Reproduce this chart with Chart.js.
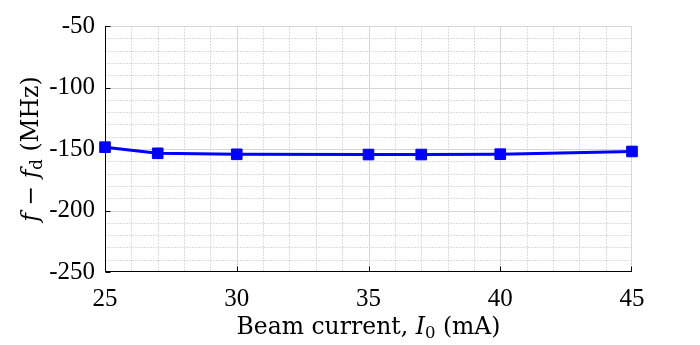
<!DOCTYPE html>
<html>
<head>
<meta charset="utf-8">
<script src="https://cdn.jsdelivr.net/npm/chart.js@4.4.0/dist/chart.umd.min.js"></script>
<style>
  html, body { margin: 0; padding: 0; background: #fff; }
  #wrap { width: 700px; height: 345px; position: relative; }
</style>
</head>
<body>
<div id="wrap"><canvas id="chart"></canvas></div>
<script>
// beam current (mA) and detuning f - fd (MHz)
const beamCurrent = [25, 27, 30, 35, 37, 40, 45];
const detuning = [-148.5, -153.5, -154.3, -154.5, -154.5, -154.2, -152];

const xMin = 25, xMax = 45, xMajor = 5, xMinor = 1;
const yMin = -250, yMax = -50, yMajor = 50, yMinor = 10;

const FONT = "'Liberation Serif', 'DejaVu Serif', serif";
const TFONT = "'DejaVu Serif', serif";

// grid + axes drawn from the chart's scales
const gridPlugin = {
  id: "matlabGrid",
  beforeDatasetsDraw(chart) {
    const ctx = chart.ctx;
    const xs = chart.scales.x, ys = chart.scales.y;
    const L = Math.round(xs.left) + 0.5, R = Math.round(xs.right) - 0.5;
    const T = Math.round(ys.top) + 0.5, B = Math.round(ys.bottom) - 0.5;
    ctx.save();
    ctx.lineWidth = 1;

    // minor dotted
    ctx.strokeStyle = "rgb(185,185,185)";
    ctx.setLineDash([1, 2]);
    for (let v = xMin + xMinor; v < xMax; v += xMinor) {
      if (v % xMajor === 0) continue;
      const px = Math.round(xs.getPixelForValue(v)) + 0.5;
      ctx.beginPath(); ctx.moveTo(px, T); ctx.lineTo(px, B); ctx.stroke();
    }
    for (let v = yMin + yMinor; v < yMax; v += yMinor) {
      if (v % yMajor === 0) continue;
      const py = Math.round(ys.getPixelForValue(v)) + 0.5;
      ctx.beginPath(); ctx.moveTo(L, py); ctx.lineTo(R, py); ctx.stroke();
    }

    // major solid
    ctx.setLineDash([]);
    ctx.strokeStyle = "rgb(215,215,215)";
    for (let v = xMin + xMajor; v <= xMax; v += xMajor) {
      const px = Math.round(xs.getPixelForValue(v)) - (v === xMax ? 0.5 : -0.5);
      ctx.beginPath(); ctx.moveTo(px, T); ctx.lineTo(px, B); ctx.stroke();
    }
    for (let v = yMin + yMajor; v <= yMax; v += yMajor) {
      const py = Math.round(ys.getPixelForValue(v)) + 0.5;
      ctx.beginPath(); ctx.moveTo(L, py); ctx.lineTo(R, py); ctx.stroke();
    }

    // axes
    ctx.strokeStyle = "#000";
    ctx.beginPath();
    ctx.moveTo(L, T - 0.5); ctx.lineTo(L, B); ctx.lineTo(R + 0.5, B);
    ctx.stroke();
    for (let v = xMin; v <= xMax; v += xMajor) {
      const px = Math.round(xs.getPixelForValue(v)) - (v === xMax ? 0.5 : -0.5);
      ctx.beginPath(); ctx.moveTo(px, B); ctx.lineTo(px, B - 5); ctx.stroke();
    }
    for (let v = yMin; v <= yMax; v += yMajor) {
      const py = Math.round(ys.getPixelForValue(v)) + 0.5;
      ctx.beginPath(); ctx.moveTo(L, py); ctx.lineTo(L + 5, py); ctx.stroke();
    }
    ctx.restore();
  },
  afterDraw(chart) {
    const ctx = chart.ctx;
    const xs = chart.scales.x, ys = chart.scales.y;
    const big = "23.5px " + TFONT, ital = "italic 23.5px " + TFONT, sub = "16.5px " + TFONT;

    function runs(parts) {
      let w = 0;
      parts.forEach(p => { ctx.font = p.f; p.w = ctx.measureText(p.t).width; w += p.w; });
      return w;
    }
    function draw(parts, x0, y0) {
      let x = x0;
      parts.forEach(p => {
        ctx.font = p.f;
        ctx.fillText(p.t, x, y0 + (p.dy || 0));
        x += p.w;
      });
    }

    ctx.save();
    ctx.fillStyle = "#000";
    ctx.textBaseline = "alphabetic";
    ctx.textAlign = "left";

    // x title
    const xt = [
      { t: "Beam current, ", f: big },
      { t: "I", f: ital },
      { t: "0", f: sub, dy: 4 },
      { t: " (mA)", f: big }
    ];
    const xw = runs(xt);
    draw(xt, (xs.left + xs.right) / 2 - xw / 2, 334);

    // y title
    const yt = [
      { t: "f", f: ital },
      { t: " \u2212 ", f: big },
      { t: "f", f: ital },
      { t: "d", f: sub, dy: 4 },
      { t: " (MHz)", f: big }
    ];
    const yw = runs(yt);
    ctx.translate(38, (ys.top + ys.bottom) / 2);
    ctx.rotate(-Math.PI / 2);
    draw(yt, -yw / 2, 0);
    ctx.restore();
  }
};

const points = beamCurrent.map((x, i) => ({ x: x, y: detuning[i] }));

new Chart(document.getElementById("chart"), {
  type: "line",
  data: {
    datasets: [{
      data: points,
      borderColor: "#0000ff",
      backgroundColor: "#0000ff",
      borderWidth: 3,
      pointStyle: "rect",
      pointRadius: 7.5,
      pointBorderWidth: 1,
      pointHoverRadius: 7.5,
      tension: 0,
      clip: false
    }]
  },
  options: {
    responsive: true,
    maintainAspectRatio: false,
    animation: false,
    events: [],
    layout: { padding: { top: 26, right: 68, left: 0, bottom: 0 } },
    plugins: { legend: { display: false }, tooltip: { enabled: false } },
    scales: {
      x: {
        type: "linear",
        min: xMin, max: xMax,
        grid: { display: false, drawTicks: false },
        border: { display: false },
        ticks: {
          stepSize: xMajor,
          color: "#000",
          padding: 12,
          maxRotation: 0,
          font: { family: FONT, size: 25 }
        },
        afterFit(s) { s.height = 73; }
      },
      y: {
        min: yMin, max: yMax,
        grid: { display: false, drawTicks: false },
        border: { display: false },
        ticks: {
          stepSize: yMajor,
          color: "#000",
          padding: 10,
          font: { family: FONT, size: 25 }
        },
        afterFit(s) { s.width = 105; }
      }
    }
  },
  plugins: [gridPlugin]
});
</script>
</body>
</html>
